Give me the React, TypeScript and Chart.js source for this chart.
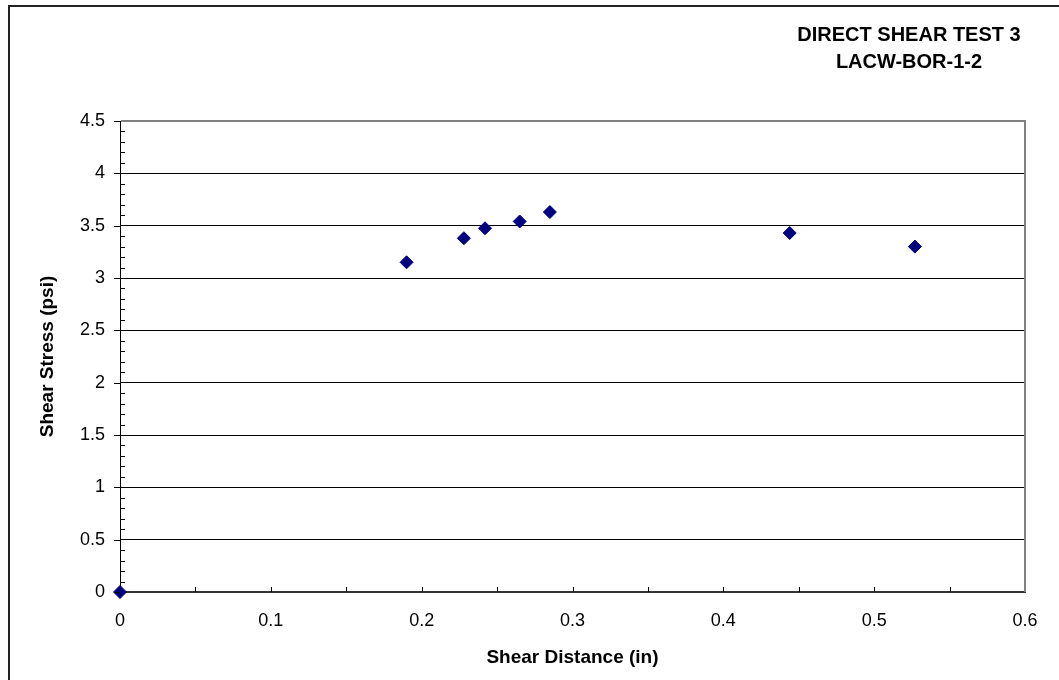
import React, { useEffect, useRef } from "react";
import { Chart, registerables } from "chart.js";

Chart.register(...registerables);

const titleLines = ["DIRECT SHEAR TEST 3", "LACW-BOR-1-2"];
const xAxisTitle = "Shear Distance (in)";
const yAxisTitle = "Shear Stress (psi)";
const shearDistance = [0, 0.19, 0.228, 0.242, 0.265, 0.285, 0.444, 0.527];
const shearStress = [0, 3.15, 3.38, 3.475, 3.54, 3.63, 3.43, 3.3];
const xMin = 0, xMax = 0.6, xStep = 0.1, xMinorStep = 0.05;
const yMin = 0, yMax = 4.5, yStep = 0.5, yMinorStep = 0.1;

const FONT = "'Liberation Sans', Arial, Helvetica, sans-serif";
const fmt = (v: any) => String(Math.round(Number(v) * 100) / 100);

const decorPlugin = {
  id: "decor",
  afterDraw(chart: any) {
    const { ctx, chartArea, scales } = chart;
    const xs = scales.x, ys = scales.y;
    ctx.save();
    ctx.strokeStyle = "#000";
    ctx.lineWidth = 1;
    const nY = Math.round((yMax - yMin) / yMinorStep);
    for (let i = 0; i <= nY; i++) {
      const v = yMin + i * yMinorStep;
      const py = Math.round(ys.getPixelForValue(v)) + 0.5;
      ctx.beginPath();
      const isMajor = i % Math.round(yStep / yMinorStep) === 0;
      if (isMajor) {
        ctx.moveTo(chartArea.left - 6, py);
        ctx.lineTo(chartArea.left, py);
      } else {
        ctx.moveTo(chartArea.left, py);
        ctx.lineTo(chartArea.left + 5, py);
      }
      ctx.stroke();
    }
    const nX = Math.round((xMax - xMin) / xMinorStep);
    for (let i = 1; i <= nX; i++) {
      const v = xMin + i * xMinorStep;
      const px = Math.round(xs.getPixelForValue(v)) + 0.5;
      ctx.beginPath();
      ctx.moveTo(px, chartArea.bottom);
      ctx.lineTo(px, chartArea.bottom - 5);
      ctx.stroke();
    }
    ctx.strokeStyle = "#808080";
    ctx.lineWidth = 2;
    ctx.beginPath();
    ctx.moveTo(chartArea.right, chartArea.top - 1);
    ctx.lineTo(chartArea.right, chartArea.bottom);
    ctx.stroke();
    ctx.fillStyle = "#000";
    ctx.font = `bold 20px ${FONT}`;
    ctx.textAlign = "center";
    ctx.textBaseline = "middle";
    titleLines.forEach((t, i) => ctx.fillText(t, 909, 35 + i * 27));
    ctx.restore();
  },
};

export default function App() {
  const ref = useRef<HTMLCanvasElement>(null);
  useEffect(() => {
    const canvas = ref.current!;
    const points = shearDistance.map((x, i) => ({ x, y: shearStress[i] }));
    const chart = new Chart(canvas, {
      type: "scatter",
      data: {
        datasets: [
          {
            data: points,
            pointStyle: "rectRot",
            pointRadius: 6.5,
            pointBackgroundColor: "#000080",
            pointBorderColor: "#000080",
            pointBorderWidth: 1,
            clip: false as any,
          },
        ],
      },
      options: {
        responsive: false,
        animation: false,
        layout: { padding: { left: 20, top: 121, right: 34, bottom: 8 } },
        plugins: { legend: { display: false }, tooltip: { enabled: false }, title: { display: false } },
        scales: {
          x: {
            type: "linear",
            min: xMin,
            max: xMax,
            afterFit: (s: any) => { s.height = 80; },
            ticks: { stepSize: xStep, color: "#000", padding: 18, font: { family: FONT, size: 18 }, callback: fmt },
            grid: { display: false, drawTicks: false },
            border: { color: "#333", width: 2 },
            title: { display: true, text: xAxisTitle, color: "#000", font: { family: FONT, size: 19, weight: "bold" }, padding: { top: 3, bottom: 3 } },
          },
          y: {
            type: "linear",
            min: yMin,
            max: yMax,
            afterFit: (s: any) => { s.width = 100; },
            ticks: { stepSize: yStep, color: "#000", padding: 15, font: { family: FONT, size: 18 }, callback: fmt },
            grid: {
              drawTicks: false,
              color: (c: any) => (c.tick && c.tick.value === yMax ? "#808080" : "#000"),
              lineWidth: (c: any) => (c.tick && c.tick.value === yMax ? 2 : 1),
            },
            border: { color: "#000", width: 1 },
            title: { display: true, text: yAxisTitle, color: "#000", font: { family: FONT, size: 19, weight: "bold" }, padding: { top: 16, bottom: 16 } },
          },
        },
      },
      plugins: [decorPlugin],
    });
    return () => chart.destroy();
  }, []);

  return (
    <div style={{ position: "fixed", left: 0, top: 0, width: 1059, height: 680, overflow: "hidden", background: "#fff" }}>
      <div style={{ position: "absolute", left: 8, top: 5, width: 1100, height: 720, border: "2px solid #222", boxSizing: "border-box" }} />
      <canvas ref={ref} width={1059} height={680} style={{ position: "absolute", left: 0, top: 0, width: 1059, height: 680 }} />
    </div>
  );
}
